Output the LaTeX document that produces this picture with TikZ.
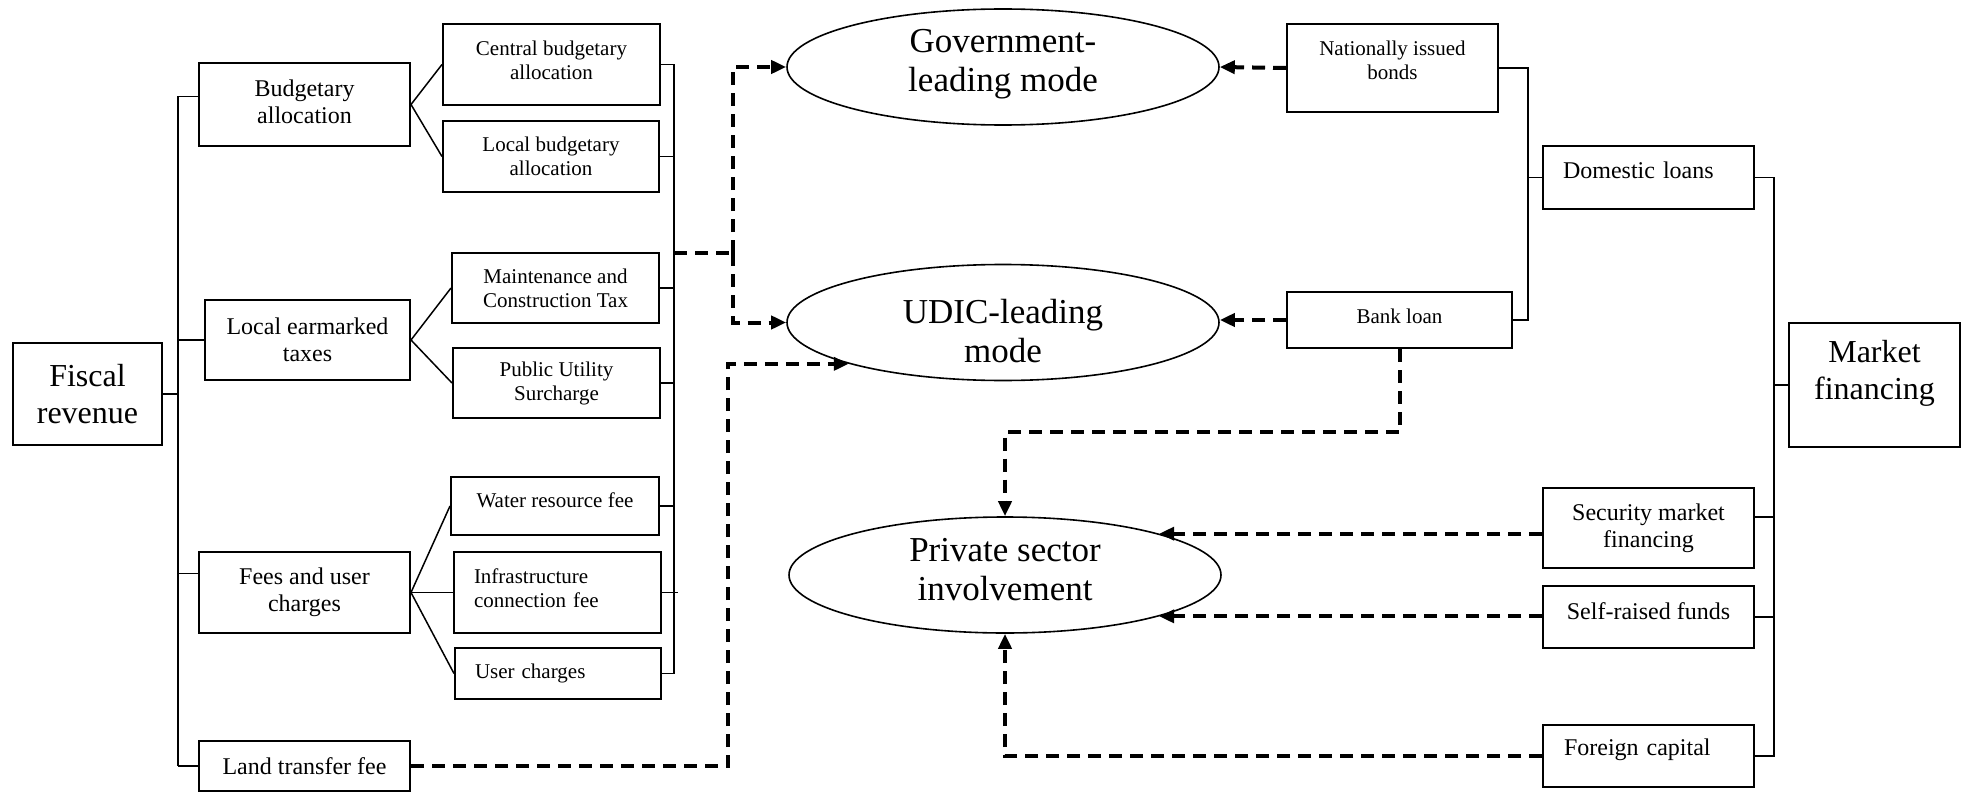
\documentclass[tikz,border=0pt]{standalone}
\usepackage{fontspec}
\setmainfont{Liberation Serif}
\usetikzlibrary{arrows.meta,shapes.geometric}
\newcommand{\myfa}{\fontsize{10.5pt}{12pt}\selectfont}
\newcommand{\myfb}{\fontsize{12pt}{13.5pt}\selectfont}
\newcommand{\myfc}{\fontsize{16pt}{18.5pt}\selectfont}
\newcommand{\myfd}{\fontsize{17.5pt}{19.5pt}\selectfont}
\newcommand{\mydp}[1]{\rule[-#1]{0pt}{#1}}
\newcommand{\myht}[1]{\rule{0pt}{#1}}
\begin{document}
\begin{tikzpicture}[x=0.5pt,y=-0.5pt,
  bx/.style n args={2}{draw, line width=1pt, inner sep=0pt, align=center, minimum width=#1, minimum height=#2},
  ln/.style={line width=0.75pt},
  dsh/.style={line width=2pt, dash pattern=on 6.5pt off 4pt},
  dar/.style={dsh, -{Triangle[length=7.5pt,width=6.5pt]}},
  ell/.style={draw, ellipse, line width=0.8pt, inner sep=0pt, minimum width=216pt, minimum height=58pt, align=center, font=\myfd}]
\useasboundingbox (0,0) rectangle (1970,792);

% left side
\node[bx={74.5pt}{51pt}, font=\myfc] (fis) at (87.5,394) {Fiscal\\revenue};
\node[bx={105.5pt}{41.5pt}, font=\myfb] (bud) at (304.5,104.5) {Budgetary\\allocation\mydp{2.5pt}};
\node[bx={102.5pt}{40pt}, font=\myfb] (let) at (307.5,340) {Local earmarked\\taxes};
\node[bx={105.5pt}{40.5pt}, font=\myfb] (fees) at (304.5,592.5) {Fees and user\\charges};
\node[bx={105.5pt}{25pt}, font=\myfb] (land) at (304.5,766) {Land transfer fee};
\node[bx={108.5pt}{40.5pt}, font=\myfa] (cba) at (551.5,64.5) {Central budgetary\\allocation\mydp{4pt}};
\node[bx={108pt}{35.5pt}, font=\myfa] (lba) at (551,156.5) {Local budgetary\\allocation};
\node[bx={103.5pt}{35pt}, font=\myfa] (mct) at (555.5,288) {Maintenance and\\Construction Tax};
\node[bx={103.5pt}{35pt}, font=\myfa] (pus) at (556.5,383) {Public Utility\\Surcharge};
\node[bx={104pt}{29pt}, font=\myfa] (wrf) at (555,506) {Water resource fee\mydp{6pt}};
\node[bx={103.5pt}{40.5pt}, font=\myfa, align=left, text width=83.5pt] (icf) at (557.5,592.5) {Infrastructure\\connection fee\mydp{4pt}};
\node[bx={103pt}{25.5pt}, font=\myfa, align=left, text width=83pt] (uch) at (558,673.5) {User charges};

% ellipses
\node[ell] (gov) at (1003,67) {Government-\\leading mode\mydp{7pt}};
\node[ell] (udic) at (1003,322.5) {\myht{20.5pt}UDIC-leading\\mode};
\node[ell] (psi) at (1005,575) {Private sector\\involvement\mydp{6pt}};

% right side
\node[bx={105.5pt}{44pt}, font=\myfa] (bonds) at (1392.5,68) {Nationally issued\\bonds\mydp{8pt}};
\node[bx={112.5pt}{28pt}, font=\myfa] (bank) at (1399.5,320) {Bank loan\mydp{4pt}};
\node[bx={105.5pt}{31.5pt}, font=\myfb, align=left, text width=85.5pt] (dom) at (1648.5,177.5) {Domestic loans\mydp{7pt}};
\node[bx={85.5pt}{62pt}, font=\myfc] (mkt) at (1874.5,385) {Market\\financing\mydp{15pt}};
\node[bx={105.5pt}{40pt}, font=\myfb] (sec) at (1648.5,528) {Security market\\financing};
\node[bx={105.5pt}{31pt}, font=\myfb] (selfr) at (1648.5,617) {Self-raised funds\mydp{6pt}};
\node[bx={105.5pt}{31pt}, font=\myfb, align=left, text width=84.5pt] (forc) at (1648.5,756) {Foreign capital\mydp{8.6pt}};

% left tree connectors
\coordinate (tk) at (178,0);
\coordinate (budc) at ([yshift=4pt]bud.west);
\coordinate (feec) at ([yshift=9.5pt]fees.west);
\draw[ln] (budc -| tk) -- (land.west -| tk);
\draw[ln] (fis.east) -- (fis.east -| tk);
\draw[ln] (budc) -- (budc -| tk);
\draw[ln] (let.west) -- (let.west -| tk);
\draw[ln] (feec) -- (feec -| tk);
\draw[ln] (land.west) -- (land.west -| tk);
\draw[ln] (cba.west) -- (bud.east) -- (lba.west);
\draw[ln] (mct.west) -- (let.east) -- (pus.west);
\draw[ln] (wrf.west) -- (fees.east) -- (uch.west);
\draw[ln] (fees.east) -- (icf.west);

\coordinate (rb) at (674,0);
\draw[ln] (cba.east) -- (cba.east -| rb) -- (uch.east -| rb) -- (uch.east);
\draw[ln] (lba.east) -- (lba.east -| rb);
\draw[ln] (mct.east) -- (mct.east -| rb);
\draw[ln] (pus.east) -- (pus.east -| rb);
\draw[ln] (wrf.east) -- (wrf.east -| rb);
\coordinate (icfe) at ([xshift=2pt]icf.east -| rb);
\draw[ln] (icf.east) -- (icfe);

% dashed from left
\coordinate (bj) at (674,253);
\coordinate (dv) at (733,253);
\draw[dsh] (bj) -- (dv);
\draw[dar] (dv) |- (gov.west);
\draw[dar] (dv) |- (udic.west);
\coordinate (lx) at (728,0);
\draw[dar] (land.east) -| (lx |- udic.195) -- (udic.195);

% right tree connectors
\coordinate (b1) at (1528,0);
\coordinate (b2) at (1774,0);
\draw[ln] (bonds.east) -- (bonds.east -| b1) -- (bank.east -| b1) -- (bank.east);
\draw[ln] (dom.west) -- (dom.west -| b1);
\draw[ln] (dom.east) -- (dom.east -| b2) -- (forc.east -| b2) -- (forc.east);
\draw[ln] (mkt.west) -- (mkt.west -| b2);
\coordinate (secc) at ([yshift=5.5pt]sec.east);
\draw[ln] (secc) -- (secc -| b2);
\draw[ln] (selfr.east) -- (selfr.east -| b2);

% dashed from right
\draw[dar] (bonds.west) -- (gov.east);
\draw[dar] (bank.west) -- (bank.west -| udic.east);
\coordinate (bk) at (0,432);
\draw[dar] (bank.south) -- (bank.south |- bk) -| (psi.north);
\draw[dar] (sec.west |- psi.15) -- (psi.15);
\draw[dar] (selfr.west |- psi.-15) -- (psi.-15);
\draw[dar] (forc.west) -| (psi.south);
\end{tikzpicture}
\end{document}
